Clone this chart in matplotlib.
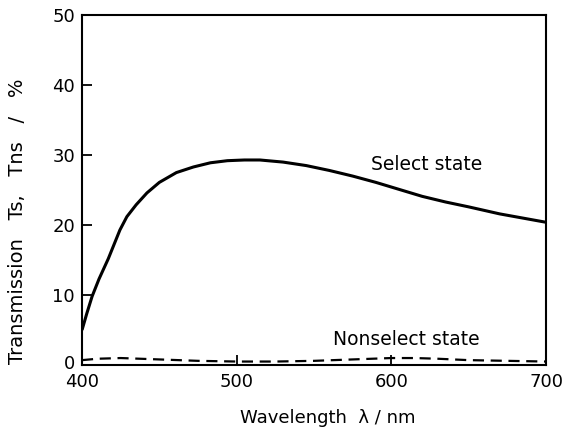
import matplotlib
matplotlib.use("Agg")
import matplotlib.pyplot as plt
from matplotlib.transforms import ScaledTranslation

# Transmission spectra of the two display states
wl_select = [400, 403, 406.5, 411, 417, 424.5, 429, 435, 442, 450, 461, 472, 483, 494, 505, 515, 530, 545, 560, 575, 590, 605, 620, 635, 650, 670, 685, 700]
t_select = [5.0, 7.3, 9.8, 12.3, 15.2, 19.3, 21.2, 22.9, 24.6, 26.1, 27.5, 28.3, 28.9, 29.2, 29.3, 29.3, 29.0, 28.5, 27.8, 27.0, 26.1, 25.1, 24.1, 23.3, 22.6, 21.6, 21.0, 20.4]

wl_nonselect = [400, 410, 425, 450, 475, 500, 525, 550, 575, 600, 615, 630, 650, 675, 700]
t_nonselect = [0.7, 0.9, 1.0, 0.8, 0.6, 0.5, 0.5, 0.6, 0.8, 1.0, 1.0, 0.9, 0.7, 0.6, 0.5]

x_ticks = [400, 500, 600, 700]
y_ticks = [0, 10, 20, 30, 40, 50]

plt.rcParams['font.family'] = ['DejaVu Sans']

fig = plt.figure(figsize=(5.68, 4.32), dpi=100)
ax = fig.add_axes([0.1444, 0.155, 0.8169, 0.810])

ax.plot(wl_select, t_select, color='black', lw=2.2, solid_capstyle='butt')
ax.plot(wl_nonselect, t_nonselect, color='black', lw=1.6, linestyle=(0, (5, 3)))

ax.set_xlim(400, 700)
ax.set_ylim(0, 50)
ax.set_xticks(x_ticks)
ax.set_yticks(y_ticks)
ax.tick_params(direction='in', length=7, width=1.3, labelsize=13)
ax.tick_params(axis='x', pad=6)
ax.tick_params(axis='y', pad=5)
for s in ax.spines.values():
    s.set_linewidth(1.5)

# lift the "0" label a little so it clears the "400" below it
zero_label = ax.yaxis.get_major_ticks()[0].label1
zero_label.set_transform(zero_label.get_transform()
                         + ScaledTranslation(0, 2.5 / 72, fig.dpi_scale_trans))

ax.text(623, 28.6, 'Select state', fontsize=13.5, ha='center', va='center')
ax.text(609.5, 3.6, 'Nonselect state', fontsize=13.5, ha='center', va='center')

ax.set_xlabel('Wavelength  λ / nm', fontsize=13)
ax.xaxis.set_label_coords(0.530, -0.125)
ax.set_ylabel('Transmission   Ts,   Tns   /   %', fontsize=14)
ax.yaxis.set_label_coords(-0.118, 0.411)

fig.savefig('out.png', dpi=100)
